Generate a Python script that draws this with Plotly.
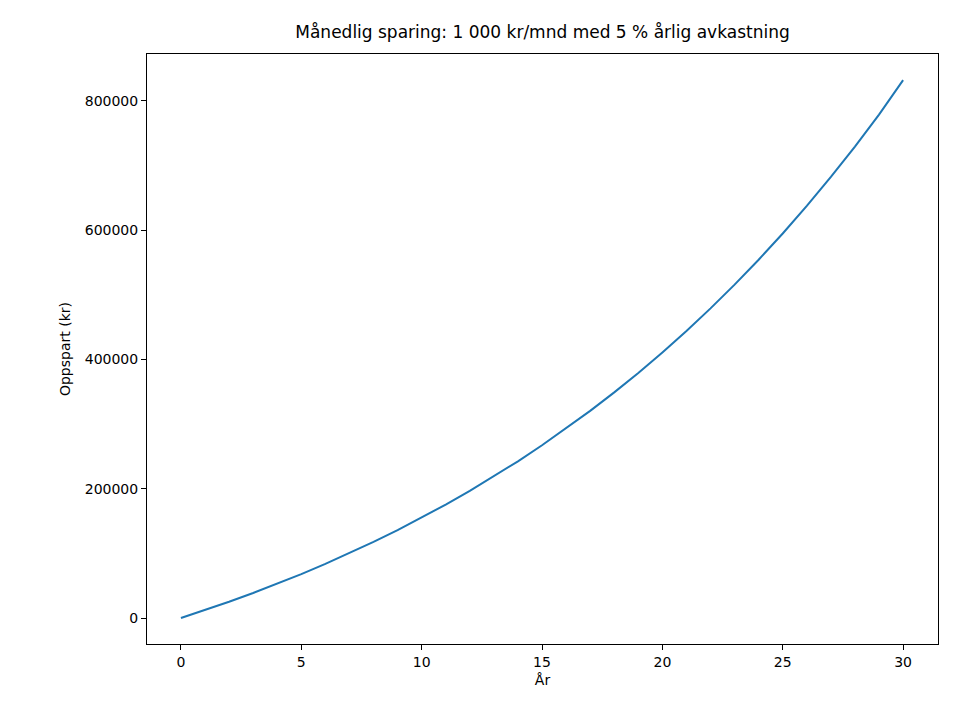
import plotly.graph_objects as go

years = list(range(31))
saved = [0, 12300, 25200, 38800, 53000, 68000, 83800, 100300, 117700, 136000,
         155300, 175500, 196700, 219100, 242500, 267300, 293200, 320500, 349100,
         379200, 411000, 444200, 479100, 515800, 554400, 595000, 637600, 682400,
         729500, 779000, 832300]
x_ticks = [0, 5, 10, 15, 20, 25, 30]
y_ticks = [0, 200000, 400000, 600000, 800000]

fig = go.Figure(go.Scatter(x=years, y=saved, mode="lines", line=dict(color="#1f77b4", width=2)))
axis = dict(showgrid=False, zeroline=False, showline=True, linecolor="black", linewidth=1,
            mirror=True, ticks="outside", ticklen=5, tickcolor="black",
            tickfont=dict(size=14, color="black"))
fig.update_layout(
    width=955, height=725, plot_bgcolor="white", paper_bgcolor="white",
    margin=dict(l=139, r=25, t=46, b=89),
    font=dict(family="DejaVu Sans", size=14, color="black"),
    title=dict(text="Månedlig sparing: 1 000 kr/mnd med 5 % årlig avkastning",
               x=0.5, xanchor="center", xref="paper", y=1 - 24/725, yanchor="middle",
               font=dict(size=17)),
    xaxis=dict(axis, range=[-1.41, 31.45], tickvals=x_ticks,
               title=dict(text="År", standoff=6, font=dict(size=14))),
    yaxis=dict(axis, range=[-40200, 872700], tickvals=y_ticks, tickformat="d",
               title=dict(text="Oppspart (kr)", standoff=10, font=dict(size=14))),
    showlegend=False,
)
fig.write_html("out.html")
